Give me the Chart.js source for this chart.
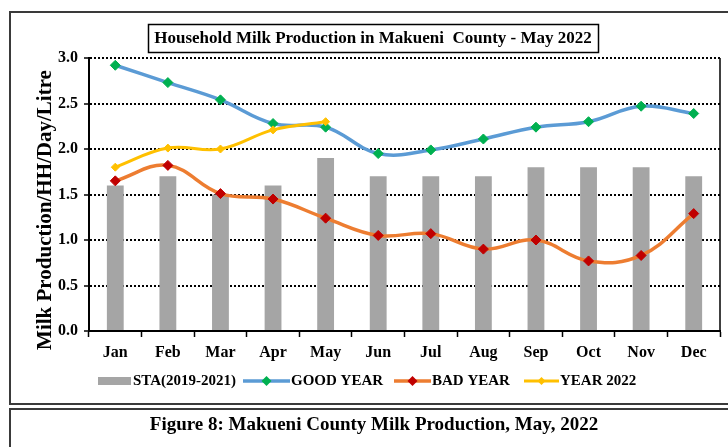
<!DOCTYPE html>
<html>
<head>
<meta charset="utf-8">
<script src="https://cdn.jsdelivr.net/npm/chart.js@4/dist/chart.umd.min.js"></script>
<style>
  html, body { margin: 0; padding: 0; background: #fff; }
  #wrap { width: 728px; height: 447px; position: relative; }
</style>
</head>
<body>
<div id="wrap"><canvas id="milkChart" width="728" height="447"></canvas></div>
<script>
// Data
const months = ['Jan', 'Feb', 'Mar', 'Apr', 'May', 'Jun', 'Jul', 'Aug', 'Sep', 'Oct', 'Nov', 'Dec'];
const staValues = [1.6, 1.7, 1.5, 1.6, 1.9, 1.7, 1.7, 1.7, 1.8, 1.8, 1.8, 1.7];
const goodYear = [2.92, 2.73, 2.54, 2.28, 2.24, 1.95, 1.99, 2.11, 2.24, 2.30, 2.47, 2.39];
const badYear = [1.65, 1.82, 1.51, 1.45, 1.24, 1.05, 1.07, 0.90, 1.00, 0.77, 0.83, 1.29];
const year2022 = [1.80, 2.01, 2.00, 2.21, 2.30, null, null, null, null, null, null, null];
const yTicks = [0, 0.5, 1.0, 1.5, 2.0, 2.5, 3.0];

const chartTitle = 'Household Milk Production in Makueni  County - May 2022';
const figureCaption = 'Figure 8: Makueni County Milk Production, May, 2022';
const yTitle = 'Milk Production/HH/Day/Litre';

const SERIF = '"Liberation Serif", "Times New Roman", serif';

// frames, title box, axis title, right border and legend
const decorations = {
    id: 'decorations',
    afterDraw(chart) {
        const ctx = chart.ctx;
        const area = chart.chartArea;
        ctx.save();

        // outer boxes
        ctx.strokeStyle = '#3a3a3a';
        ctx.lineWidth = 2;
        ctx.strokeRect(10, 12, 730, 392);
        ctx.strokeRect(10, 409, 730, 60);

        // right border of plot
        ctx.strokeStyle = '#000';
        ctx.lineWidth = 1.5;
        ctx.beginPath();
        ctx.moveTo(area.right, area.top);
        ctx.lineTo(area.right, area.bottom);
        ctx.stroke();

        // title box
        ctx.strokeRect(148.5, 24.5, 450, 28);
        ctx.fillStyle = '#000';
        ctx.font = 'bold 17px ' + SERIF;
        ctx.textAlign = 'center';
        ctx.textBaseline = 'middle';
        ctx.fillText(chartTitle, 373, 39);

        // caption
        ctx.font = 'bold 19px ' + SERIF;
        ctx.fillText(figureCaption, 374, 425);

        // y axis title
        ctx.save();
        ctx.translate(46, 210);
        ctx.rotate(-Math.PI / 2);
        ctx.font = 'bold 21px ' + SERIF;
        ctx.fillText(yTitle, 0, 0);
        ctx.restore();

        // legend
        const ly = 381;
        ctx.font = 'bold 15px ' + SERIF;
        ctx.textAlign = 'left';
        const ds = chart.data.datasets;
        ctx.fillStyle = ds[0].backgroundColor;
        ctx.fillRect(98, ly - 4, 33, 8);
        ctx.fillStyle = '#000';
        ctx.fillText(ds[0].label, 133, ly);

        const lineItems = [
            { d: ds[1], x0: 243, x1: 290 },
            { d: ds[2], x0: 394, x1: 431 },
            { d: ds[3], x0: 524, x1: 559 }
        ];
        lineItems.forEach(it => {
            ctx.strokeStyle = it.d.borderColor;
            ctx.lineWidth = it.d.borderWidth;
            ctx.beginPath();
            ctx.moveTo(it.x0, ly);
            ctx.lineTo(it.x1, ly);
            ctx.stroke();
            const cx = (it.x0 + it.x1) / 2;
            const r = it.d.pointRadius;
            ctx.fillStyle = it.d.pointBackgroundColor;
            ctx.beginPath();
            ctx.moveTo(cx, ly - r);
            ctx.lineTo(cx + r, ly);
            ctx.lineTo(cx, ly + r);
            ctx.lineTo(cx - r, ly);
            ctx.closePath();
            ctx.fill();
            ctx.fillStyle = '#000';
            ctx.fillText(it.d.label, it.x1 + 1, ly);
        });

        ctx.restore();
    }
};

new Chart('milkChart', {
    type: 'bar',
    data: {
        labels: months,
        datasets: [
            {
                type: 'bar',
                label: 'STA(2019-2021)',
                data: staValues,
                backgroundColor: '#a5a5a5',
                barPercentage: 0.32,
                categoryPercentage: 1.0,
                order: 4
            },
            {
                type: 'line',
                label: 'GOOD YEAR',
                data: goodYear,
                borderColor: '#5b9bd5',
                borderWidth: 3.5,
                tension: 0.4,
                pointStyle: 'rectRot',
                pointRadius: 5,
                pointBackgroundColor: '#00b050',
                pointBorderColor: '#00b050',
                pointBorderWidth: 1,
                order: 3
            },
            {
                type: 'line',
                label: 'BAD YEAR',
                data: badYear,
                borderColor: '#ed7d31',
                borderWidth: 3.5,
                tension: 0.4,
                pointStyle: 'rectRot',
                pointRadius: 5,
                pointBackgroundColor: '#c00000',
                pointBorderColor: '#c00000',
                pointBorderWidth: 1,
                order: 2
            },
            {
                type: 'line',
                label: 'YEAR 2022',
                data: year2022,
                borderColor: '#ffc000',
                borderWidth: 3,
                tension: 0.4,
                pointStyle: 'rectRot',
                pointRadius: 4,
                pointBackgroundColor: '#ffc000',
                pointBorderColor: '#ffc000',
                pointBorderWidth: 1,
                order: 1
            }
        ]
    },
    options: {
        responsive: false,
        animation: false,
        layout: {
            padding: { left: 31, right: 8, top: 58, bottom: 86 }
        },
        plugins: {
            legend: { display: false },
            title: { display: false },
            tooltip: { enabled: false }
        },
        scales: {
            x: {
                offset: true,
                grid: {
                    display: true,
                    drawOnChartArea: false,
                    drawTicks: true,
                    offset: true,
                    tickLength: 6,
                    tickColor: '#000',
                    tickWidth: 1.5
                },
                border: { color: '#000', width: 2 },
                ticks: {
                    color: '#000',
                    padding: 6,
                    font: { family: SERIF, size: 16, weight: 'bold' }
                },
                afterFit(scale) { scale.height = 30; }
            },
            y: {
                min: 0,
                max: 3,
                afterBuildTicks(scale) {
                    scale.ticks = yTicks.map(v => ({ value: v }));
                },
                grid: {
                    color: '#000',
                    lineWidth: 2,
                    tickLength: 5,
                    tickColor: '#000',
                    tickWidth: 1.5,
                    tickBorderDash: []
                },
                border: { color: '#000', width: 2, dash: [2, 2] },
                ticks: {
                    color: '#000',
                    padding: 6,
                    font: { family: SERIF, size: 16, weight: 'bold' },
                    callback: v => Number(v).toFixed(1)
                },
                afterFit(scale) { scale.width = 58; }
            }
        }
    },
    plugins: [decorations]
});
</script>
</body>
</html>
